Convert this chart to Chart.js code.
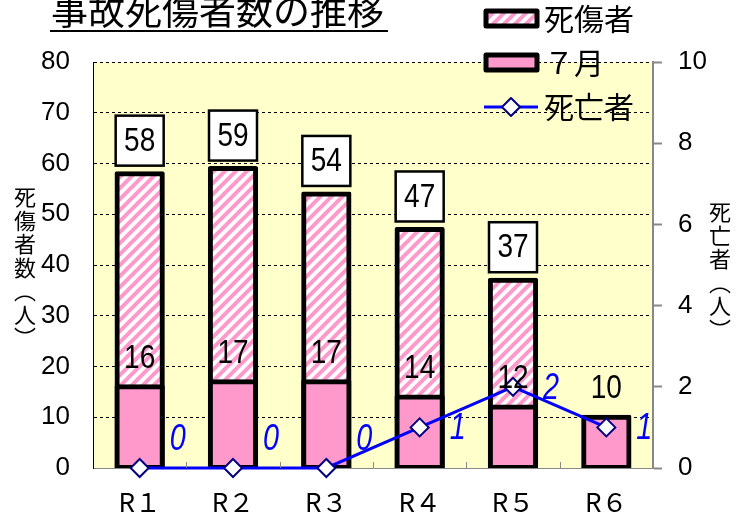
<!DOCTYPE html>
<html>
<head>
<meta charset="utf-8">
<script src="https://cdn.jsdelivr.net/npm/chart.js@4/dist/chart.umd.min.js"></script>
<style>
  body { margin: 0; background: #fff; }
  canvas { display: block; }
</style>
</head>
<body>
<canvas id="myChart" width="747" height="517"></canvas>
<script>
var categories = ['R１', 'R２', 'R３', 'R４', 'R５', 'R６'];
var totalValues = [58, 59, 54, 47, 37, null];
var julyValues = [16, 17, 17, 14, 12, 10];
var deathValues = [0, 0, 0, 1, 2, 1];
var leftTicks = [0, 10, 20, 30, 40, 50, 60, 70, 80];
var rightTicks = [0, 2, 4, 6, 8, 10];

var num = "'Liberation Sans', Arial, sans-serif";
var jp = "'Noto Sans CJK JP', sans-serif";

// pink diagonal hatch
function makeHatch() {
    var n = 11;
    var c = document.createElement('canvas');
    c.width = n; c.height = n;
    var g = c.getContext('2d');
    g.fillStyle = '#fff';
    g.fillRect(0, 0, n, n);
    g.strokeStyle = '#FF99CC';
    g.lineWidth = 4;
    g.beginPath();
    g.moveTo(-2, n + 2); g.lineTo(n + 2, -2);
    g.moveTo(-n - 2, n + 2); g.lineTo(2, -2);
    g.moveTo(n - 2, n + 2); g.lineTo(2 * n + 2, -2);
    g.stroke();
    return g.createPattern(c, 'repeat');
}
var hatch = makeHatch();

// narrow text, like the original gothic digits
function narrowText(ctx, txt, x, y, sx) {
    ctx.save();
    ctx.translate(x, y);
    ctx.scale(sx, 1);
    ctx.fillText(txt, 0, 0);
    ctx.restore();
}

var extras = {
    id: 'extras',
    beforeDraw: function (chart) {
        var a = chart.chartArea, ctx = chart.ctx;
        ctx.save();
        ctx.fillStyle = '#FFFFCC';
        ctx.fillRect(a.left, a.top, a.right - a.left, a.bottom - a.top);
        ctx.restore();
    },
    afterDatasetsDraw: function (chart) {
        var ctx = chart.ctx, a = chart.chartArea;
        var x = chart.scales.x;
        ctx.save();
        // inward category ticks
        ctx.strokeStyle = '#888';
        ctx.lineWidth = 1;
        for (var i = 1; i < categories.length; i++) {
            var px = Math.round((x.getPixelForValue(i - 1) + x.getPixelForValue(i)) / 2) + 0.5;
            ctx.beginPath();
            ctx.moveTo(px, a.bottom);
            ctx.lineTo(px, a.bottom - 6);
            ctx.stroke();
        }
        var julyMeta = chart.getDatasetMeta(0);
        var totalMeta = chart.getDatasetMeta(1);
        var lineMeta = chart.getDatasetMeta(2);
        ctx.textAlign = 'center';
        ctx.textBaseline = 'middle';
        // totals in boxes
        totalMeta.data.forEach(function (bar, i) {
            if (totalValues[i] == null) return;
            var bw = 48, bh = 50;
            var by = bar.y - 8 - bh;
            ctx.fillStyle = '#fff';
            ctx.fillRect(bar.x - bw / 2, by, bw, bh);
            ctx.strokeStyle = '#000';
            ctx.lineWidth = 2.5;
            ctx.strokeRect(bar.x - bw / 2, by, bw, bh);
            ctx.fillStyle = '#000';
            ctx.font = '33px ' + num;
            narrowText(ctx, String(totalValues[i]), bar.x, by + bh / 2 + 1, 0.85);
        });
        // july labels
        julyMeta.data.forEach(function (bar, i) {
            ctx.fillStyle = '#000';
            ctx.font = '33px ' + num;
            narrowText(ctx, String(julyValues[i]), bar.x, bar.y - 28, 0.85);
        });
        // death labels
        lineMeta.data.forEach(function (pt, i) {
            ctx.fillStyle = '#0000FF';
            ctx.font = 'italic 36px ' + num;
            var dy = deathValues[i] === 0 ? -28 : 2;
            narrowText(ctx, String(deathValues[i]), pt.x + 38, pt.y + dy, 0.8);
        });
        ctx.restore();
    },
    afterDraw: function (chart) {
        var ctx = chart.ctx;
        ctx.save();
        // title
        ctx.fillStyle = '#000';
        ctx.font = '37px ' + jp;
        ctx.textAlign = 'left';
        ctx.textBaseline = 'alphabetic';
        ctx.fillText('事故死傷者数の推移', 51, 25);
        ctx.fillRect(50, 30, 338, 2);

        // axis titles, stacked upright
        ctx.font = '22px ' + jp;
        ctx.textAlign = 'center';
        ctx.textBaseline = 'middle';
        var lt = ['死', '傷', '者', '数', '︵', '人', '︶'];
        lt.forEach(function (ch, i) { ctx.fillText(ch, 25, 197 + i * 23.5); });
        var rt = ['死', '亡', '者', '︵', '人', '︶'];
        rt.forEach(function (ch, i) { ctx.fillText(ch, 720, 212 + i * 23.5); });

        // legend
        ctx.lineJoin = 'round';
        ctx.strokeStyle = '#000';
        ctx.lineWidth = 5;
        ctx.fillStyle = hatch;
        ctx.fillRect(486, 11, 51, 15);
        ctx.strokeRect(486, 11, 51, 15);
        ctx.fillStyle = '#FF99CC';
        ctx.fillRect(486, 55, 51, 15);
        ctx.strokeRect(486, 55, 51, 15);
        ctx.strokeStyle = '#0000FF';
        ctx.lineWidth = 3;
        ctx.beginPath();
        ctx.moveTo(484, 107); ctx.lineTo(538, 107);
        ctx.stroke();
        ctx.fillStyle = '#fff';
        ctx.strokeStyle = '#000080';
        ctx.lineWidth = 2;
        ctx.beginPath();
        ctx.moveTo(511, 98); ctx.lineTo(520, 107); ctx.lineTo(511, 116); ctx.lineTo(502, 107);
        ctx.closePath();
        ctx.fill(); ctx.stroke();

        ctx.fillStyle = '#000';
        ctx.font = '30px ' + jp;
        ctx.textAlign = 'left';
        ctx.fillText('死傷者', 544, 19);
        ctx.fillText('７月', 544, 63);
        ctx.fillText('死亡者', 544, 107);
        ctx.restore();
    }
};

new Chart('myChart', {
    type: 'bar',
    data: {
        labels: categories,
        datasets: [{
            label: '７月',
            data: julyValues,
            backgroundColor: '#FF99CC',
            borderColor: '#000',
            borderWidth: 5,
            borderSkipped: false,
            borderRadius: 2,
            inflateAmount: 2.5,
            yAxisID: 'y',
            order: 1
        }, {
            label: '死傷者',
            data: totalValues,
            backgroundColor: hatch,
            borderColor: '#000',
            borderWidth: 5,
            borderSkipped: false,
            borderRadius: 2,
            inflateAmount: 2.5,
            yAxisID: 'y',
            order: 2
        }, {
            type: 'line',
            label: '死亡者',
            data: deathValues,
            borderColor: '#0000FF',
            borderWidth: 3,
            pointStyle: 'rectRot',
            pointRadius: 9,
            pointBackgroundColor: '#fff',
            pointBorderColor: '#000080',
            pointBorderWidth: 2,
            yAxisID: 'y2',
            clip: false,
            order: 0
        }]
    },
    options: {
        responsive: false,
        animation: false,
        events: [],
        datasets: {
            bar: { grouped: false, barPercentage: 0.485, categoryPercentage: 1 }
        },
        layout: { padding: { top: 62, left: 0, right: 0, bottom: 0 } },
        plugins: {
            legend: { display: false },
            title: { display: false },
            tooltip: { enabled: false }
        },
        scales: {
            x: {
                afterFit: function (s) { s.height = 49; },
                grid: { display: false },
                border: { display: true, color: '#888', width: 1 },
                ticks: {
                    color: '#000',
                    padding: 11,
                    font: { family: jp, size: 26 }
                }
            },
            y: {
                position: 'left',
                min: 0,
                max: 80,
                afterFit: function (s) { s.width = 93; },
                afterBuildTicks: function (s) { s.ticks = leftTicks.map(function (v) { return { value: v }; }); },
                grid: { color: '#000', lineWidth: 1, drawTicks: false },
                border: { display: true, color: '#000', width: 1, dash: [3, 3] },
                ticks: {
                    color: '#000',
                    padding: 23,
                    font: { family: num, size: 26 }
                }
            },
            y2: {
                position: 'right',
                min: 0,
                max: 10,
                afterFit: function (s) { s.width = 94; },
                afterBuildTicks: function (s) { s.ticks = rightTicks.map(function (v) { return { value: v }; }); },
                grid: { drawOnChartArea: false, drawTicks: true, tickLength: 9, tickColor: '#888', tickWidth: 2 },
                border: { display: true, color: '#888', width: 2 },
                ticks: {
                    color: '#000',
                    padding: 16,
                    font: { family: num, size: 26 }
                }
            }
        }
    },
    plugins: [extras]
});
</script>
</body>
</html>
